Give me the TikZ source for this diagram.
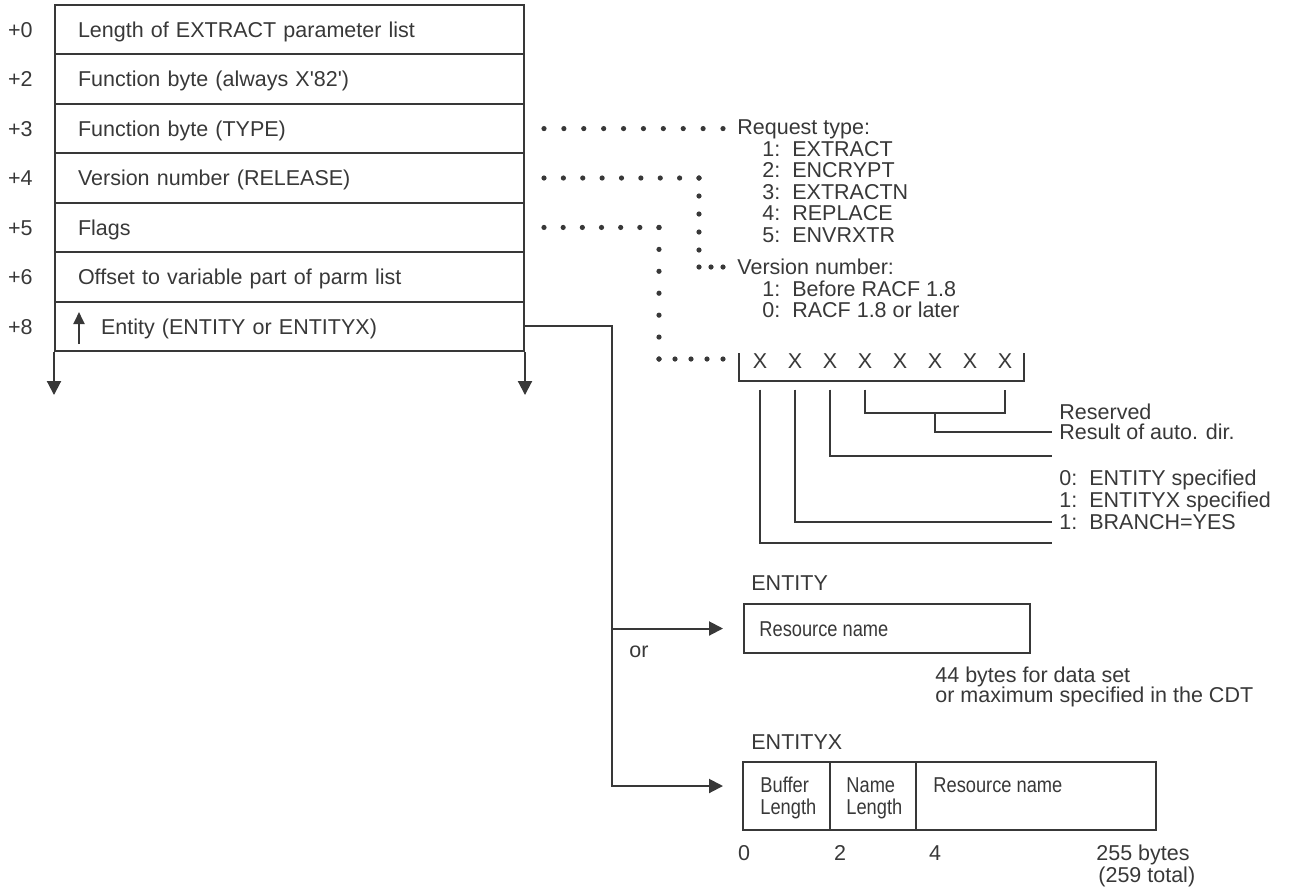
\documentclass[tikz,border=0pt]{standalone}
\usepackage{fontspec}
\setmainfont{Liberation Sans}
\newfontfamily\narrowfont[FakeStretch=0.85]{Liberation Sans}
\usepackage{tikz}
\usetikzlibrary{arrows.meta, calc, positioning}
\colorlet{ink}{black!78}
\tikzset{
	txt/.style={anchor=west, inner sep=0pt, text height=7.7pt, text depth=0pt, text=ink, font=\fontsize{10.75}{11}\selectfont},
	narrow/.style={txt, font=\narrowfont\fontsize{10.75}{11}\selectfont},
	ln/.style={draw=ink, line width=1pt},
	tip/.style={-{Triangle[length=7pt,width=7pt]}},
	fieldrow/.style={ln, anchor=north west, minimum width=234.5pt, minimum height=24.72pt, inner xsep=11.5pt, inner ysep=0pt,
		text width=211.5pt, align=left, text height=7.7pt, text depth=0pt, text=ink, font=\fontsize{10.75}{11}\selectfont},
	cell/.style={ln, anchor=north west, minimum height=34pt, inner sep=0pt, outer sep=0pt}
}
% dotted leader: #3 equal steps from #1 to #2
\newcommand{\dotrow}[3]{\foreach \s in {0,...,#3} \fill[ink] ($(#1)!\s/#3!(#2)$) circle (1.3pt);}
\begin{document}
\begin{tikzpicture}[x=0.5pt, y=-0.5pt]
\useasboundingbox (0,0) rectangle (1291,890);

% parameter list
\foreach \o/\t [count=\k from 0] in {0/Length of EXTRACT parameter list, 2/Function byte (always X\textquotesingle 82\textquotesingle), 3/Function byte (TYPE), 4/Version number (RELEASE), 5/Flags, 6/Offset to variable part of parm list, 8/{\hspace{11.5pt}Entity (ENTITY or ENTITYX)}}
{
	\node[fieldrow] (row\o) at (54,{4+49.43*\k}) {\t};
	\node[txt, anchor=east] (off\o) at ([xshift=-10.5pt]row\o.west) {+\o};
}
\draw[ln, tip] (row8.south west) -- ++(0,-21.5pt);
\draw[ln, tip] (row8.south east) -- ++(0,-21.5pt);
\draw[ln, -{Triangle[length=6pt,width=5.5pt]}] ([xshift=12.5pt,yshift=4pt]row8.south west) -- ++(0,16pt);

% request type and version number
\node[txt] (rtype) at (737,127) {Request type:};
\foreach \t [count=\k] in {EXTRACT, ENCRYPT, EXTRACTN, REPLACE, ENVRXTR}
	\node[txt] (rt\k) at (762,{127+21.5*\k}) {\k:\hspace{6pt}\t};
\node[txt] (vnum) at (737,267) {Version number:};
\node[txt] (vn1) at (762,288.5) {1:\hspace{6pt}Before RACF 1.8};
\node[txt] (vn0) at (762,310) {0:\hspace{6pt}RACF 1.8 or later};

% flag bits
\foreach \k in {0,...,7}
	\node[txt, anchor=center] (bit\k) at ({760+35*\k},361) {X};
\coordinate (brk) at (739,359);
\draw[ln] (739,353) |- (1024,381) -- (1024,353);

\node[txt] (lres) at (1059,412) {Reserved};
\node[txt] (lauto) at (1059,432) {Result of auto. dir.};
\node[txt] (lent0) at (1059,478) {0:\hspace{6pt}ENTITY specified};
\node[txt] (lent1) at (1059,500) {1:\hspace{6pt}ENTITYX specified};
\node[txt] (lbranch) at (1059,522) {1:\hspace{6pt}BRANCH=YES};
\coordinate (e0) at (1052,543);
\coordinate (e2) at (1052,456);

\draw[ln] ([yshift=-10.25pt]bit0.south) |- (e0);
\draw[ln] ([yshift=-10.25pt]bit1.south) |- ([xshift=-3.5pt]lbranch.west);
\draw[ln] ([yshift=-10.25pt]bit2.south) |- (e2);
\draw[ln] ([yshift=-10.25pt]bit3.south) -- ++(0,-11.5pt) -| ([yshift=-10.25pt]bit7.south);
\draw[ln] ($(bit3.south)!.5!(bit7.south)+(0,-21.75pt)$) |- ([xshift=-3.5pt]lauto.west);

% dotted leaders
\coordinate (d3a) at ([xshift=9.5pt]row3.east);
\coordinate (d3b) at ([xshift=-7pt]rtype.west |- row3.east);
\coordinate (d4a) at ([xshift=9.5pt]row4.east);
\coordinate (vcorner) at ([xshift=77.5pt]d4a);
\coordinate (vlow) at ([yshift=-36pt]vcorner);
\coordinate (vin) at ([xshift=-7pt]vnum.west);
\coordinate (d5a) at ([xshift=9.5pt]row5.east);
\coordinate (fcorner) at ([xshift=57.5pt]d5a);
\coordinate (fin) at ([xshift=-8pt]brk);
\dotrow{d3a}{d3b}{9}
\dotrow{d4a}{vcorner}{8}
\dotrow{vcorner}{vlow}{4}
\dotrow{vcorner |- vin}{vin}{2}
\dotrow{d5a}{fcorner}{6}
\dotrow{fcorner}{fcorner |- fin}{6}
\dotrow{fcorner |- fin}{fin}{4}

% ENTITY
\node[txt] (entlbl) at (751,583) {ENTITY};
\node[ln, anchor=north west, minimum width=143pt, minimum height=24.5pt, inner sep=0pt] (ebox) at (743,603) {};
\node[narrow] (ename) at ([xshift=8pt]ebox.west) {Resource name};
\node[txt] (esize1) at (935,675) {44 bytes for data set};
\node[txt] (esize2) at (935,695) {or maximum specified in the CDT};

% ENTITYX
\node[txt] (entxlbl) at (751,742) {ENTITYX};
\node[cell, minimum width=43.5pt] (xcell1) at (743,762) {};
\node[cell, minimum width=43pt] (xcell2) at (xcell1.north east) {};
\node[cell, minimum width=120pt] (xcell3) at (xcell2.north east) {};
\node[narrow] (xbuf) at ([xshift=8.5pt,yshift=-11.5pt]xcell1.north west) {Buffer};
\node[narrow] (xbuflen) at ([yshift=-11pt]xbuf.west) {Length};
\node[narrow] (xname) at ([xshift=8pt,yshift=-11.5pt]xcell2.north west) {Name};
\node[narrow] (xnamelen) at ([yshift=-11pt]xname.west) {Length};
\node[narrow] (xres) at ([xshift=8.5pt,yshift=-11.5pt]xcell3.north west) {Resource name};
\node[txt, anchor=center] (pos0) at (744,853) {0};
\node[txt, anchor=center] (pos2) at (840,853) {2};
\node[txt, anchor=center] (pos4) at (935,853) {4};
\node[txt] (xsize1) at (1096,853) {255 bytes};
\node[txt] (xsize2) at (1098,875) {(259 total)};

% entity pointer
\draw[ln, tip, shorten >=10pt] (row8.east) -- ++(43.5pt,0) coordinate (fork) |- ([yshift=-12pt]xcell1.north west);
\draw[ln, tip, shorten >=10pt] (fork |- ebox.west) -- (ebox.west);
\node[txt] (orlbl) at (629,650) {or};
\end{tikzpicture}
\end{document}
